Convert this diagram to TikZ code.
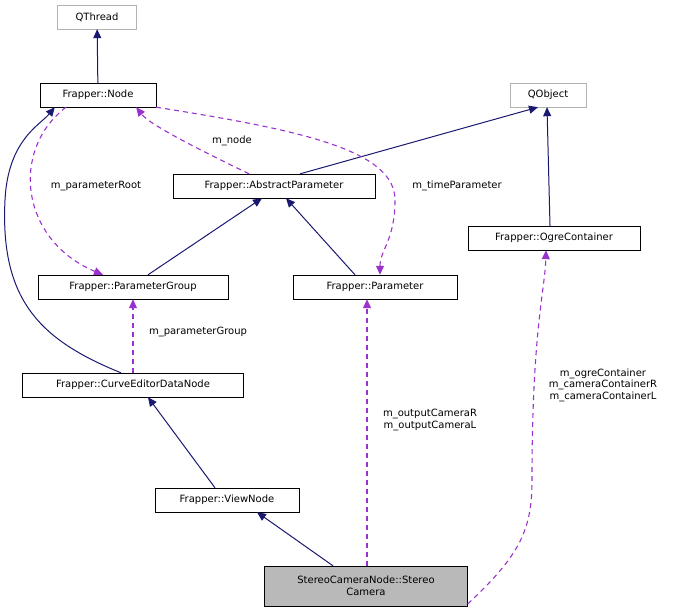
\documentclass[tikz,border=0pt]{standalone}
\usepackage{fontspec}
\setmainfont{DejaVu Sans}
\usetikzlibrary{arrows.meta}
\definecolor{usecol}{HTML}{9A32CD}
\definecolor{inhcol}{HTML}{191970}
\begin{document}
\begin{tikzpicture}[x=1pt,y=-1pt,
  font=\fontsize{10}{11.5}\selectfont,
  cls/.style={rectangle, draw=black, fill=white, minimum height=24pt, inner sep=2pt},
  ext/.style={cls, draw=gray!60},
  inh/.style={draw=inhcol, line width=1pt, -{Triangle[length=9pt,width=8pt]}},
  use/.style={draw=usecol, line width=1.1pt, dash pattern=on 5pt off 4pt, -{Triangle[length=9pt,width=8pt]}},
  lbl/.style={align=center}]

\useasboundingbox (0,0) rectangle (679,613);

\node[ext, minimum width=79pt] (qthread) at (97,17) {QThread};
\node[cls, minimum width=116pt] (node) at (98,95) {Frapper::Node};
\node[ext, minimum width=76pt] (qobject) at (548,95) {QObject};
\node[cls, minimum width=202pt] (absparam) at (274,186) {Frapper::AbstractParameter};
\node[cls, minimum width=172pt] (ogre) at (554,238) {Frapper::OgreContainer};
\node[cls, minimum width=190pt] (pgroup) at (133,287) {Frapper::ParameterGroup};
\node[cls, minimum width=164pt] (param) at (375,287) {Frapper::Parameter};
\node[cls, minimum width=221pt] (curve) at (133,385) {Frapper::CurveEditorDataNode};
\node[cls, minimum width=144pt] (view) at (227,500) {Frapper::ViewNode};
\node[cls, fill=gray!55, minimum width=203pt, minimum height=40pt, align=center] (stereo) at (366,586) {StereoCameraNode::Stereo\\Camera};

% inheritance
\draw[inh] (node) -- (qthread);
\draw[inh] ([xshift=-75pt]absparam.north east) -- ([xshift=-10pt]qobject.south);
\draw[inh] ([xshift=-4pt]ogre.north) -- ([xshift=-1pt]qobject.south);
\draw[inh] ([xshift=15pt]pgroup.north) -- ([xshift=-12pt]absparam.south);
\draw[inh] ([xshift=-20pt]param.north) -- ([xshift=12pt]absparam.south);
\draw[inh] ([xshift=-12pt]curve.north) .. controls (40,340) and (0,300) .. (5,200) .. controls (8,140) and (40,125) .. ([xshift=15pt]node.south west);
\draw[inh] ([xshift=-12pt]view.north) -- ([xshift=15pt]curve.south);
\draw[inh] ([xshift=-33pt]stereo.north) -- ([xshift=30pt]view.south);

% usage
\draw[use] ([xshift=-25pt]absparam.north) .. controls (200,150) and (150,125) .. ([xshift=-20pt]node.south east);
\node[lbl] (lnode) at (232,141) {m\_node};
\draw[use] ([xshift=-32pt]node.south) .. controls (10,150) and (20,240) .. ([xshift=-30pt]pgroup.north);
\node[lbl] (lroot) at (96,186) {m\_parameterRoot};
\draw[use] (node.south east) .. controls (300,130) and (395,150) .. (395,200) .. controls (395,240) and (380,250) .. ([xshift=5pt]param.north);
\node[lbl] (ltime) at (457,186) {m\_timeParameter};
\draw[use] (curve.north) -- (pgroup.south);
\node[lbl] (lgroup) at (198,332) {m\_parameterGroup};
\draw[use] ([xshift=1pt]stereo.north) -- ([xshift=-8pt]param.south);
\node[lbl] (lcam) at (430,420) {m\_outputCameraR\\m\_outputCameraL};
\draw[use] ([yshift=-18pt]stereo.east) .. controls (520,555) and (532,530) .. (532,480) .. controls (532,330) and (545,290) .. ([xshift=-8pt]ogre.south);
\node[lbl] (logre) at (603,385) {m\_ogreContainer\\m\_cameraContainerR\\m\_cameraContainerL};
\end{tikzpicture}
\end{document}
